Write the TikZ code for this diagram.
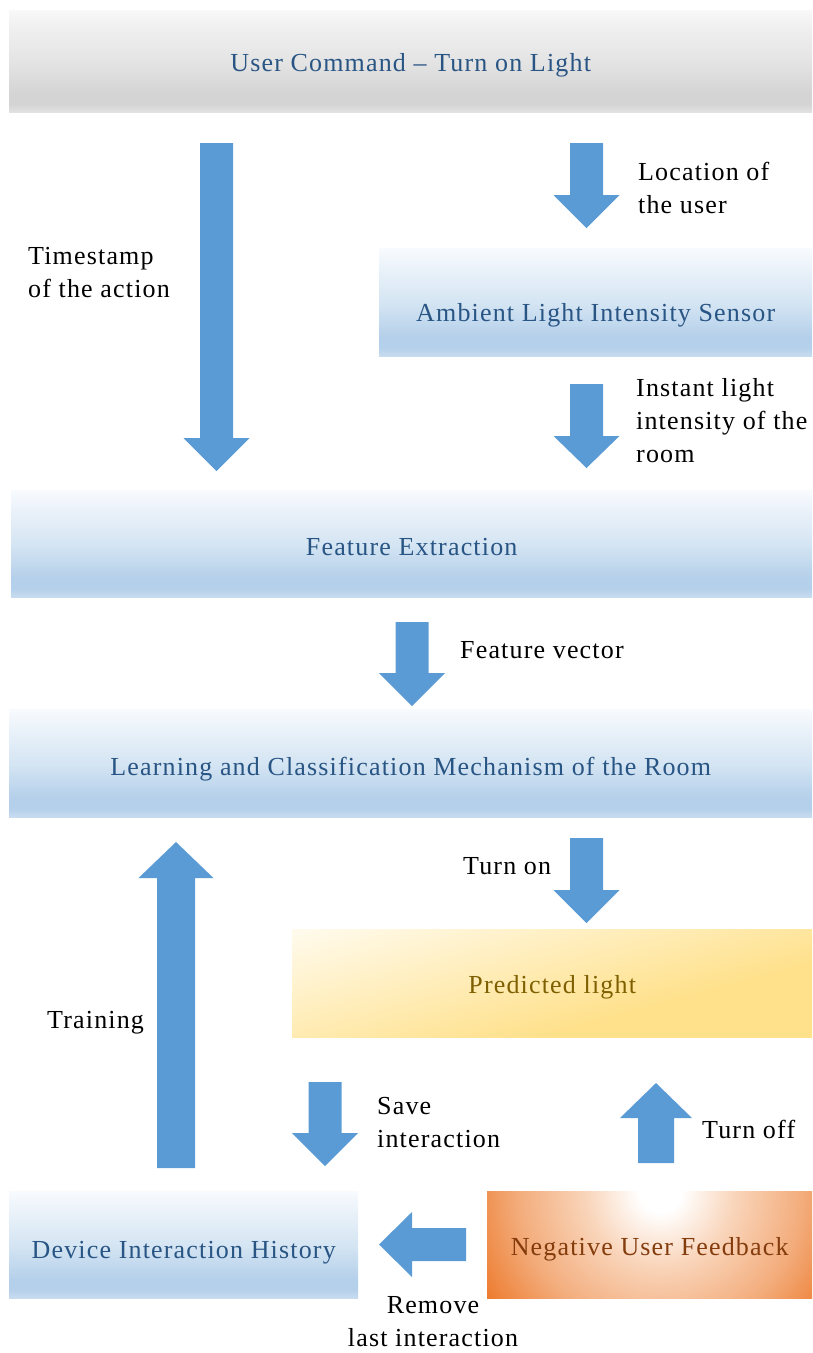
\documentclass[tikz,border=0pt]{standalone}
\usepackage{fontspec}
\setmainfont{Liberation Serif}[LetterSpace=4.5]
\definecolor{arrowblue}{RGB}{91,155,213}
\definecolor{bluetext}{RGB}{40,85,132}
\definecolor{yellowtext}{RGB}{127,96,0}
\definecolor{orangetext}{RGB}{132,60,12}
\definecolor{btop}{RGB}{248,251,254}
\definecolor{bupper}{RGB}{236,243,250}
\definecolor{bmid}{RGB}{213,229,243}
\definecolor{bstrong}{RGB}{181,208,234}
\definecolor{bbot}{RGB}{200,220,240}
\definecolor{gtop}{RGB}{248,248,248}
\definecolor{gupper}{RGB}{240,240,240}
\definecolor{gmid}{RGB}{228,228,228}
\definecolor{gstrong}{RGB}{212,212,212}
\definecolor{gbot}{RGB}{226,226,226}
\definecolor{ylight}{RGB}{255,250,235}
\definecolor{yfull}{RGB}{255,225,140}
\definecolor{olight}{RGB}{249,212,185}
\definecolor{omid}{RGB}{243,172,123}
\definecolor{odark}{RGB}{237,125,49}
\pgfdeclareverticalshading{blueband}{100bp}{color(0bp)=(bbot); color(25bp)=(bbot); color(29bp)=(bstrong); color(34bp)=(bstrong); color(50bp)=(bmid); color(67bp)=(bupper); color(75bp)=(btop); color(100bp)=(btop)}
\pgfdeclareverticalshading{grayband}{100bp}{color(0bp)=(gbot); color(25bp)=(gbot); color(29bp)=(gstrong); color(34bp)=(gstrong); color(50bp)=(gmid); color(67bp)=(gupper); color(75bp)=(gtop); color(100bp)=(gtop)}
\pgfdeclareradialshading{negrad}{\pgfpoint{0bp}{0bp}}{color(0bp)=(white); color(2.5bp)=(white); color(9bp)=(olight); color(17bp)=(omid); color(24bp)=(odark); color(50bp)=(odark)}
\newcommand\vblockarrow[6]{% cx, end, base, tip, shaft half, head half
  \fill[arrowblue] ({#1-#5},#2) -- ({#1+#5},#2) -- ({#1+#5},#3) -- ({#1+#6},#3) -- (#1,#4) -- ({#1-#6},#3) -- ({#1-#5},#3) -- cycle;}
\newcommand\hblockarrow[6]{% cy, end, base, tip, shaft half, head half
  \fill[arrowblue] (#2,{#1-#5}) -- (#2,{#1+#5}) -- (#3,{#1+#5}) -- (#3,{#1+#6}) -- (#4,#1) -- (#3,{#1-#6}) -- (#3,{#1-#5}) -- cycle;}
\tikzset{
  box/.style={anchor=north west, inner sep=0pt, draw=none, text depth=0pt,
    font=\fontsize{26}{33}\selectfont},
  bluebox/.style={box, shade, shading=blueband, text=bluetext},
  graybox/.style={box, shade, shading=grayband, text=bluetext},
  yellowbox/.style={box, text=yellowtext},
  orangebox/.style={box, text=orangetext,
    path picture={\shade[shading=negrad] ([xshift=173pt]path picture bounding box.north west) circle (210pt);}},
  lbl/.style={anchor=north west, inner sep=0pt, align=left, font=\fontsize{26}{33}\selectfont},
}
\begin{document}
\begin{tikzpicture}[x=1pt, y=-1pt]
\useasboundingbox (0,0) rectangle (812,1353);
% yellow diagonal gradient behind the predicted-light box
\begin{scope}
  \clip (292,929) rectangle (812,1037);
  \fill[ylight] (292,929) rectangle (812,1037);
  \begin{scope}[transform canvas={rotate around={-75:(292,929)}}]
    \shade[left color=ylight, right color=yfull] (296,329) rectangle (460,1529);
    \fill[yfull] (459,329) rectangle (1100,1529);
  \end{scope}
\end{scope}
% boxes
\node[graybox, minimum width=803pt, minimum height=102pt, text height=21pt] (cmd) at (9,10) {User Command – Turn on Light};
\node[bluebox, minimum width=433pt, minimum height=108pt, text height=38pt] (sensor) at (379,248) {Ambient Light Intensity Sensor};
\node[bluebox, minimum width=801pt, minimum height=107pt, text height=23pt] (feat) at (11,490) {Feature Extraction};
\node[bluebox, minimum width=803pt, minimum height=108pt, text height=24pt] (learn) at (9,709) {Learning and Classification Mechanism of the Room};
\node[yellowbox, minimum width=520pt, minimum height=108pt, text height=20pt] (pred) at (292,929) {Predicted light};
\node[bluebox, minimum width=349pt, minimum height=107pt, text height=27pt] (hist) at (9,1191) {Device Interaction History};
\node[orangebox, minimum width=325pt, minimum height=107pt, text height=21pt] (neg) at (487,1191) {Negative User Feedback};
% block arrows
\vblockarrow{216.5}{143}{438}{471}{16.5}{33}
\vblockarrow{586.5}{143}{195}{228}{16.5}{33}
\vblockarrow{586.5}{384}{436}{468}{16.5}{33}
\vblockarrow{412}{622}{673}{706}{16.5}{33}
\vblockarrow{586.5}{838}{890}{923}{16.5}{33}
\vblockarrow{325}{1082}{1133}{1166}{16.5}{33}
\vblockarrow{176}{1168}{878}{842}{19}{37.5}
\vblockarrow{656}{1163}{1118}{1083}{18}{36}
\hblockarrow{1244.5}{466}{412}{379}{16.5}{32.5}
% labels
\node[lbl] (lts) at (28,241) {\strut Timestamp\\of the action};
\node[lbl] (lloc) at (638,157) {\strut Location of\\the user};
\node[lbl] (linst) at (636,373) {\strut Instant light\\intensity of the\\room};
\node[lbl] (lfv) at (460,635) {\strut Feature vector};
\node[lbl] (lon) at (463,851) {\strut Turn on};
\node[lbl] (ltrain) at (47,1005) {\strut Training};
\node[lbl] (lsave) at (377,1091) {\strut Save\\interaction};
\node[lbl] (loff) at (702,1115) {\strut Turn off};
\node[lbl, anchor=north, align=center] (lrem) at (433,1290) {\strut Remove\\last interaction};
\end{tikzpicture}
\end{document}
